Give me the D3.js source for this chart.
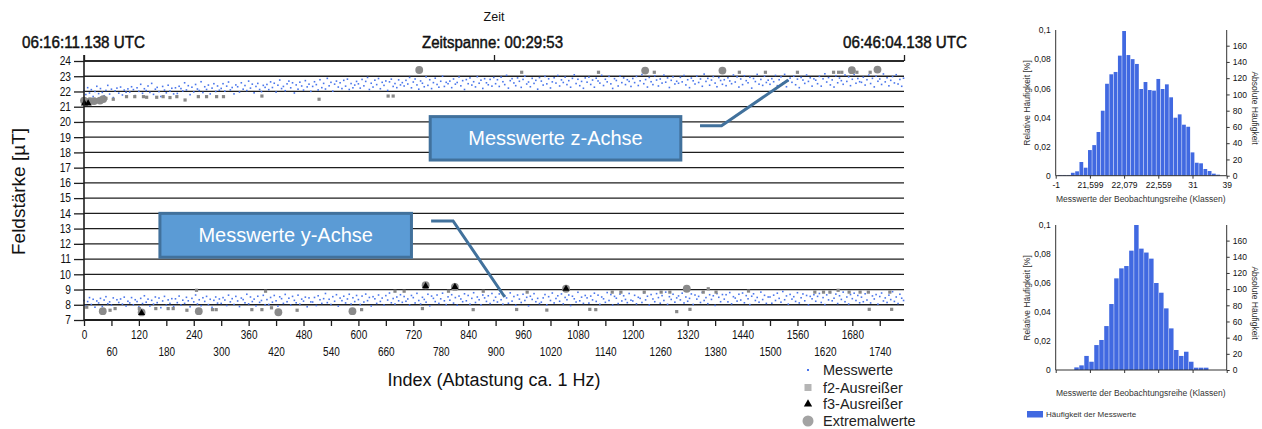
<!DOCTYPE html>
<html><head><meta charset="utf-8">
<script src="https://cdn.jsdelivr.net/npm/d3@7"></script>
<style>
body{margin:0;background:#fff}
svg{display:block}
text{font-family:"Liberation Sans",Arial,sans-serif;fill:#111}
</style>
</head><body>
<svg id="c" width="1262" height="429"></svg>
<script>
// ---------------- DATA ----------------
const sampleStep = 4; // every 4th sample index is shown
const zValues = [
22.03,21.80,22.25,21.90,22.12,21.67,22.00,22.34,21.86,22.19,21.94,21.72,22.07,22.40,21.83,22.15,21.60,22.04,22.22,21.89,22.29,21.77,22.09,21.95,22.17,
21.96,22.31,22.12,21.73,22.24,22.01,22.47,21.88,22.18,22.06,22.36,21.94,22.53,21.81,22.15,22.27,21.99,21.67,22.33,22.09,21.91,22.41,22.03,22.21,21.84,
22.24,21.87,22.34,22.19,22.03,22.57,22.10,22.38,21.79,22.28,21.97,22.46,22.16,22.06,22.64,21.93,22.31,22.13,22.42,21.84,22.22,22.51,22.00,22.36,22.08,
22.20,22.51,22.02,22.35,22.62,22.10,22.26,21.84,22.43,22.31,21.96,22.57,22.15,22.39,22.06,22.68,22.22,22.48,21.91,22.33,22.53,22.13,21.99,22.40,22.27,
22.46,22.12,22.63,22.26,22.54,21.96,22.41,22.75,22.19,22.33,22.05,22.50,22.68,22.24,22.57,21.90,22.43,22.15,22.61,22.36,22.09,22.71,22.30,22.48,22.01,
22.33,22.64,22.45,22.10,22.77,22.25,22.53,22.16,22.86,22.37,22.60,22.02,22.48,22.68,22.29,22.57,22.19,22.73,22.35,22.81,22.13,22.52,22.24,22.42,22.66,
22.50,22.22,22.79,22.37,22.66,22.92,22.13,22.54,22.29,22.74,22.45,22.85,22.18,22.60,22.40,22.69,22.07,22.63,22.81,22.33,22.52,22.25,22.76,22.43,22.58,
22.36,22.73,22.49,22.92,22.24,22.62,22.82,22.43,22.15,22.69,22.54,22.31,22.96,22.40,22.77,22.19,22.58,22.87,22.46,22.28,22.67,23.00,22.33,22.60,22.51,
22.68,22.25,22.82,22.48,22.59,22.95,22.37,22.71,22.13,22.78,22.51,22.89,22.42,22.64,22.30,22.97,22.54,22.74,22.20,22.84,22.57,22.44,22.79,22.35,22.92,
22.51,22.77,22.33,22.94,22.64,22.45,23.06,22.22,22.71,22.84,22.56,22.38,22.89,22.67,22.27,22.79,23.00,22.49,22.62,22.31,22.86,22.53,22.73,22.15,22.91,
22.68,22.42,22.99,22.50,22.83,22.23,22.63,22.90,22.55,23.05,22.36,22.76,22.59,22.94,22.45,22.71,22.28,22.86,23.09,22.52,22.80,22.38,22.66,22.21,22.89,
22.61,22.94,22.46,22.75,22.28,22.87,22.69,22.55,23.06,22.39,22.80,22.63,22.99,22.50,22.20,22.84,22.72,22.36,23.02,22.58,22.89,22.45,22.77,22.66,22.33,
22.85,22.58,22.99,22.39,22.70,23.11,22.51,22.78,22.29,22.92,22.64,22.45,23.03,22.75,22.36,22.82,22.55,23.07,22.61,22.89,22.26,22.73,22.96,22.49,22.67,
22.54,22.93,22.63,23.05,22.43,22.77,22.25,22.88,22.70,22.49,23.01,22.59,22.82,22.34,23.14,22.66,22.86,22.41,22.75,22.98,22.55,22.31,22.91,22.72,22.47,
22.77,22.38,22.90,22.69,22.51,23.08,22.62,22.96,22.29,22.82,22.45,23.03,22.71,22.57,22.93,22.22,22.85,22.65,23.12,22.48,22.79,22.40,23.00,22.59,22.74,
22.47,22.84,22.64,23.05,22.38,22.77,22.96,22.55,23.12,22.31,22.71,22.88,22.60,23.00,22.44,22.81,22.25,22.92,22.75,22.53,23.08,22.66,22.90,22.35,22.83,
22.74,22.51,22.99,22.35,22.83,23.16,22.62,22.91,22.43,22.76,22.29,23.03,22.57,22.88,22.71,22.47,23.08,22.66,22.96,22.38,22.80,23.12,22.54,22.85,22.64,
22.60,22.94,22.42,22.77,23.07,22.52,22.86,22.30,23.00,22.67,22.82,22.46,23.15,22.63,22.90,22.37,22.73,22.98,22.56,23.10,22.49,22.79,22.34,22.87
];
const yValues = [
8.28,7.95,8.21,8.47,8.02,8.36,7.84,8.25,8.12,8.42,7.90,8.31,8.53,8.07,8.19,7.98,8.45,7.80,8.33,8.15,8.38,8.04,8.50,7.92,8.23,
8.12,8.47,8.00,8.33,8.21,7.86,8.42,8.08,8.59,8.17,8.37,7.92,8.29,8.04,8.51,8.14,8.44,7.81,8.25,8.55,7.97,8.32,8.09,8.40,7.90,
8.39,8.14,8.57,7.98,8.30,8.09,8.49,8.26,7.87,8.42,8.19,8.64,8.05,8.33,7.94,8.46,8.22,8.55,8.01,8.36,7.83,8.29,8.51,8.11,8.38,
8.09,8.47,8.31,7.95,8.63,8.19,8.40,8.02,8.55,8.25,7.88,8.44,8.34,8.13,8.69,8.06,8.51,8.21,8.37,7.93,8.56,8.16,8.28,8.62,8.00,
8.34,8.02,8.48,8.17,8.61,8.26,7.91,8.52,8.40,8.09,8.68,8.20,8.43,7.98,8.55,8.29,8.13,8.63,8.04,8.37,8.24,8.50,7.87,8.45,8.19,
8.18,8.48,7.95,8.59,8.33,8.09,8.40,8.74,8.14,8.36,8.02,8.53,8.23,8.66,7.91,8.44,8.27,8.56,8.12,8.38,8.69,8.05,8.46,8.21,8.61,
8.34,8.02,8.57,8.18,8.70,8.27,8.48,7.92,8.53,8.39,8.09,8.64,8.22,8.44,7.98,8.60,8.31,8.77,8.13,8.41,8.05,8.51,8.26,8.66,8.16,
8.54,8.23,8.38,7.98,8.61,8.47,8.12,8.75,8.28,8.05,8.49,8.35,8.17,8.69,7.93,8.57,8.42,8.21,8.64,8.09,8.39,8.76,8.26,8.01,8.52,
8.30,8.66,8.11,8.47,7.97,8.57,8.38,8.20,8.72,8.26,8.61,8.04,8.42,8.79,8.15,8.51,8.33,8.00,8.64,8.45,8.22,8.59,8.08,8.74,8.28,
8.50,8.18,8.71,8.33,8.04,8.60,8.45,8.10,8.78,8.24,8.54,7.97,8.64,8.37,8.15,8.69,8.28,8.49,7.93,8.56,8.35,8.73,8.20,8.42,8.08,
8.17,8.45,8.67,8.00,8.53,8.28,8.77,8.12,8.41,8.59,8.23,8.71,8.06,8.48,8.33,8.64,7.95,8.56,8.39,8.18,8.82,8.26,8.50,8.09,8.61,
8.45,8.11,8.57,8.32,8.76,8.22,8.63,8.03,8.51,8.39,8.16,8.80,8.28,8.67,7.98,8.55,8.43,8.08,8.70,8.25,8.59,8.35,8.14,8.74,8.30,
8.25,8.62,8.06,8.49,8.42,8.15,8.78,8.32,8.56,7.98,8.67,8.38,8.20,8.73,8.47,8.10,8.60,8.28,8.83,8.03,8.53,8.35,8.69,8.17,8.45,
8.58,8.32,8.76,8.12,8.51,8.23,8.42,8.71,8.02,8.64,8.37,8.55,8.15,8.81,8.28,8.47,8.07,8.66,8.35,8.59,7.96,8.73,8.49,8.20,8.67,
8.37,8.66,8.19,8.80,8.06,8.53,8.44,8.24,8.69,8.31,8.77,8.13,8.60,8.39,8.01,8.56,8.72,8.28,8.48,8.17,8.83,8.34,8.62,8.09,8.51,
8.51,8.10,8.63,8.28,8.76,8.42,8.17,8.87,8.33,8.58,8.04,8.68,8.37,8.53,8.22,8.79,8.12,8.46,8.71,8.26,8.61,7.99,8.55,8.39,8.66,
8.23,8.55,8.74,8.15,8.47,8.01,8.65,8.32,8.80,8.26,8.43,8.70,8.08,8.59,8.35,8.83,8.20,8.51,8.05,8.67,8.40,8.76,8.28,8.61,8.13,
8.50,8.20,8.72,8.31,8.83,8.12,8.58,8.38,8.67,8.04,8.54,8.77,8.25,8.45,8.15,8.63,8.34,8.86,8.22,8.51,8.08,8.69,8.43,8.28
];
// outliers [index, value]
const f2Outliers = [
[48,21.55],[64,21.49],[93,21.66],[111,21.66],[130,21.66],[137,21.62],[159,21.62],[173,21.66],[188,21.6],[203,21.66],
[221,21.44],[250,21.66],[268,21.66],[290,21.66],[305,21.66],[389,21.7],[514,21.49],[665,21.7],[676,21.7],
[957,23.26],[1125,23.26],[1247,23.26],[1433,23.26],[1490,23.26],[1560,23.26],[1639,23.26],[1650,23.26],[1657,23.26],[1690,23.26],[1719,23.26],
[6,7.84],[57,7.64],[68,7.75],[121,7.75],[157,7.75],[184,7.75],[195,7.75],[225,7.64],[281,7.68],[289,7.68],[367,7.68],
[389,7.68],[410,7.8],[466,7.64],[607,7.68],[740,7.75],[851,7.68],[946,7.69],[1012,7.65],[1106,7.7],[1119,7.68],
[1296,7.55],[1325,7.7],[1717,7.7],[1766,7.7],
[246,8.95],[397,8.89],[680,8.89],[700,8.89],[797,8.89],[873,8.89],[969,8.83],[1155,8.83],[1174,8.83],[1225,8.83],
[1262,8.83],[1281,8.83],[1354,8.83],[1365,9.05],[1382,8.83],[1453,8.9],[1598,8.83],[1617,8.83],[1631,8.83],[1649,8.95],
[1673,8.83],[1697,8.83],[1715,8.83],[1762,8.83]
];
const f3Outliers = [[1,21.22],[9,21.22],[126,7.46],[747,9.22],[811,9.17],[1054,9.05]];
const extremalValues = [
[0,21.4],[13,21.37],[22,21.37],[35,21.4],[42,21.5],[733,23.41],[1227,23.37],[1396,23.37],[1679,23.4],[1735,23.44],
[41,7.58],[126,7.5],[251,7.58],[425,7.51],[587,7.58],[747,9.28],[811,9.17],[1054,9.05],[1318,9.05]
];
const yTicks = d3.range(7, 25);
const xTicks = d3.range(0, 1793, 60);
const timeLabels = ["06:16:11.138 UTC", "Zeitspanne: 00:29:53", "06:46:04.138 UTC"];
const legendLabels = ["Messwerte", "f2-Ausreißer", "f3-Ausreißer", "Extremalwerte"];

// histograms (relative frequency per class)
const zHistRel = [0.0005,0.0005,0.0005,0.002,0.003,0.0094,0.0055,0.0176,0.021,0.030,0.0446,0.0631,0.0696,0.0712,0.0824,0.0993,
0.0828,0.080,0.0767,0.0595,0.0643,0.0588,0.0584,0.0664,0.0595,0.0627,0.0538,0.0398,0.0421,0.0350,0.0336,0.0160,0.0089,0.0085,0.0046,0.0032,0.0014,0.0007];
const yHistRel = [0.0018,0.0032,0.0097,0.0057,0.0172,0.0207,0.0303,0.0455,0.0632,0.0701,0.0717,0.0823,0.1000,0.0837,0.0810,
0.0768,0.0600,0.0533,0.0425,0.0287,0.0138,0.0097,0.0126,0.0057,0.0016,0.0016,0.0016];
const histXTickLabels = ["-1","21,599","22,079","22,559","31","39"];
const histRelTicks = [0,0.02,0.04,0.06,0.08,0.1];
const histAbsTicks = d3.range(0, 161, 20);
const sampleCount = 1793;

// ---------------- DRAW ----------------
const svg = d3.select("#c");
const FONT = '"Liberation Sans",Arial,sans-serif';
const x = d3.scaleLinear().domain([0, 1793]).range([84, 904]);
const y = d3.scaleLinear().domain([7, 24]).range([320, 61]);

function condense(sel, f) {
  sel.each(function () {
    const w = this.getComputedTextLength();
    d3.select(this).attr("textLength", w * f).attr("lengthAdjust", "spacingAndGlyphs");
  });
}

// grid
svg.append("g").selectAll("line").data(yTicks).join("line")
  .attr("x1", x(0)).attr("x2", x(1793))
  .attr("y1", d => y(d)).attr("y2", d => y(d))
  .attr("stroke", "#1e1e1e").attr("stroke-width", 1.3);

// measurement dots
const dots = svg.append("g").attr("fill", "#4a76ec");
[zValues, yValues].forEach(vals => {
  dots.append("g").selectAll("rect").data(vals).join("rect")
    .attr("x", (d, i) => x(i * sampleStep) - 0.8)
    .attr("y", d => y(d) - 0.8)
    .attr("width", 1.6).attr("height", 1.6);
});

// extremal circles
svg.append("g").selectAll("circle").data(extremalValues).join("circle")
  .attr("cx", d => x(d[0])).attr("cy", d => y(d[1])).attr("r", 3.9)
  .attr("fill", "#8a8a8a");
// f2 squares
svg.append("g").selectAll("rect").data(f2Outliers).join("rect")
  .attr("x", d => x(d[0]) - 1.6).attr("y", d => y(d[1]) - 1.6)
  .attr("width", 3.2).attr("height", 3.2).attr("fill", "#888");
// f3 triangles
svg.append("g").selectAll("path").data(f3Outliers).join("path")
  .attr("d", d3.symbol(d3.symbolTriangle, 22))
  .attr("transform", d => `translate(${x(d[0])},${y(d[1])})`)
  .attr("fill", "#000");

// y axis
const yAx = svg.append("g").attr("transform", "translate(84,0)")
  .call(d3.axisLeft(y).tickValues(yTicks).tickSize(10).tickPadding(3));
yAx.select(".domain").remove();
yAx.selectAll(".tick line").attr("stroke", "#1e1e1e").attr("stroke-width", 1.3);
yAx.selectAll("text").attr("font-size", 12).attr("font-family", FONT).attr("fill", "#111");
condense(yAx.selectAll("text"), 0.85);
svg.append("line").attr("x1", 84).attr("x2", 84).attr("y1", 55).attr("y2", y(7))
  .attr("stroke", "#1e1e1e").attr("stroke-width", 1.6);

// x axis
const xAx = svg.append("g").attr("transform", `translate(0,${y(7)})`)
  .call(d3.axisBottom(x).tickValues(xTicks).tickSize(6).tickFormat(d3.format("d")));
xAx.select(".domain").attr("stroke", "#1e1e1e").attr("stroke-width", 2).attr("d", `M${x(0)},0H${x(1793)}`);
xAx.selectAll(".tick line").attr("stroke", "#1e1e1e").attr("stroke-width", 1.3);
xAx.selectAll("text").attr("font-size", 12.5).attr("font-family", FONT).attr("fill", "#111")
  .attr("y", (d, i) => i % 2 === 0 ? 10 : 27.5);
condense(xAx.selectAll("text"), 0.8);

// top time axis
const tAx = svg.append("g").attr("transform", `translate(0,${y(24)})`)
  .call(d3.axisTop(x).tickValues([0, 1793 / 2, 1793]).tickSize(6).tickFormat(""));
tAx.select(".domain").attr("stroke", "#1e1e1e").attr("stroke-width", 1.6).attr("d", `M${x(0)},0H${x(1793)}`);
tAx.selectAll(".tick line").attr("stroke", "#1e1e1e").attr("stroke-width", 1.3);
const tl = svg.append("g").attr("font-size", 16).style("stroke", "#111").style("stroke-width", 0.45);
tl.append("text").attr("x", 22).attr("y", 48).text(timeLabels[0]).attr("textLength", 123).attr("lengthAdjust", "spacingAndGlyphs");
tl.append("text").attr("x", x(1793 / 2) - 1.5).attr("y", 48).attr("text-anchor", "middle").text(timeLabels[1]).attr("textLength", 141).attr("lengthAdjust", "spacingAndGlyphs");
tl.append("text").attr("x", 967).attr("y", 48).attr("text-anchor", "end").text(timeLabels[2]).attr("textLength", 124).attr("lengthAdjust", "spacingAndGlyphs");
svg.append("text").attr("x", x(1793 / 2)).attr("y", 21).attr("text-anchor", "middle")
  .attr("font-size", 12.5).text("Zeit");

// axis titles
svg.append("text").attr("transform", `translate(25,${(y(7) + y(24)) / 2 + 1}) rotate(-90)`)
  .attr("text-anchor", "middle").attr("font-size", 19).text("Feldstärke [µT]");
svg.append("text").attr("x", x(1793 / 2)).attr("y", 386).attr("text-anchor", "middle")
  .attr("font-size", 18).text("Index (Abtastung ca. 1 Hz)");

// callouts (positioned in data space)
const callouts = [
  { label: "Messwerte z-Achse", box: [757, 1305, 20.35, 17.5], leader: [[1347, 19.75], [1394, 19.75], [1540, 22.75]] },
  { label: "Messwerte y-Achse", box: [166, 716, 14.0, 11.12], leader: [[759, 13.5], [807, 13.5], [920, 8.51]] }
];
callouts.forEach(c => {
  const g = svg.append("g");
  g.append("path").attr("d", d3.line().x(d => x(d[0])).y(d => y(d[1]))(c.leader))
    .attr("fill", "none").attr("stroke", "#41719c").attr("stroke-width", 3);
  g.append("rect").attr("x", x(c.box[0])).attr("y", y(c.box[2]))
    .attr("width", x(c.box[1]) - x(c.box[0])).attr("height", y(c.box[3]) - y(c.box[2]))
    .attr("fill", "#5b9bd5").attr("stroke", "#41719c").attr("stroke-width", 3);
  g.append("text").attr("x", (x(c.box[0]) + x(c.box[1])) / 2).attr("y", (y(c.box[2]) + y(c.box[3])) / 2 + 7)
    .attr("text-anchor", "middle").attr("font-family", "Lato,'Open Sans',sans-serif").attr("font-size", 20)
    .style("fill", "#fff").text(c.label);
});

// legend
const lg = svg.append("g").attr("transform", "translate(808,0)");
const rows = [370, 387.5, 404, 421];
lg.append("rect").attr("x", -1).attr("y", rows[0] - 1).attr("width", 2).attr("height", 2).attr("fill", "#4a76ec");
lg.append("rect").attr("x", -3.5).attr("y", rows[1] - 3.5).attr("width", 7).attr("height", 7).attr("fill", "#b5b5b5");
lg.append("path").attr("d", d3.symbol(d3.symbolTriangle, 30)).attr("transform", `translate(0,${rows[2]})`).attr("fill", "#000");
lg.append("circle").attr("cx", 0).attr("cy", rows[3]).attr("r", 5.5).attr("fill", "#a3a3a3");
lg.selectAll("text").data(legendLabels).join("text")
  .attr("x", 15).attr("y", (d, i) => rows[i] + 5).attr("font-size", 14.5)
  .attr("font-family", "Lato,'Open Sans',sans-serif").style("fill", "#222").text(d => d);

// ---------------- HISTOGRAMS ----------------
function hist(cfg) {
  const g = svg.append("g").attr("font-family", FONT);
  const xs = d3.scaleLinear().domain(cfg.domain).range([1055.7, 1226.7]);
  const yr = d3.scaleLinear().domain([0, 0.1]).range([cfg.base, cfg.top]);
  const ya = d3.scaleLinear().domain([0, 0.1 * sampleCount]).range([cfg.base, cfg.top]);
  g.append("g").selectAll("rect").data(cfg.data).join("rect")
    .attr("x", (d, i) => xs(cfg.start + i) + 0.25)
    .attr("width", (d, i) => xs(cfg.start + i + 1) - xs(cfg.start + i) - 0.5)
    .attr("y", d => yr(d)).attr("height", d => cfg.base - yr(d))
    .attr("fill", "#4169e1");
  const la = g.append("g").attr("transform", "translate(1055.7,0)")
    .call(d3.axisLeft(yr).tickValues(histRelTicks).tickSize(0).tickPadding(5)
      .tickFormat(d => d === 0 ? "0" : d3.format(".2~f")(d).replace(".", ",")));
  la.select(".domain").attr("stroke", "#333").attr("d", `M0,${cfg.top}V${cfg.base}`);
  la.selectAll("text").attr("font-size", 8.5).attr("fill", "#333").attr("font-family", FONT);
  const ra = g.append("g").attr("transform", "translate(1226.7,0)")
    .call(d3.axisRight(ya).tickValues(histAbsTicks).tickSize(3).tickPadding(3));
  ra.select(".domain").attr("stroke", "#333").attr("d", `M0,${cfg.top}V${cfg.base}`);
  ra.selectAll(".tick line").attr("stroke", "#333");
  ra.selectAll("text").attr("font-size", 8.5).attr("fill", "#333").attr("font-family", FONT);
  const bx = g.append("g").attr("transform", `translate(0,${cfg.base})`)
    .call(d3.axisBottom(xs).tickValues(cfg.ticks).tickSize(3).tickPadding(3)
      .tickFormat((d, i) => cfg.showLabels ? histXTickLabels[i] : ""));
  bx.select(".domain").attr("stroke", "#333").attr("d", "M1055.7,0H1226.7");
  bx.selectAll(".tick line").attr("stroke", "#333");
  bx.selectAll("text").attr("font-size", 8.5).attr("fill", "#333").attr("font-family", FONT);
  g.append("text").attr("transform", `translate(1030,${cfg.top + 73}) rotate(-90)`).attr("text-anchor", "middle")
    .attr("font-size", 8.5).style("fill", "#333").text("Relative Häufigkeit [%]");
  g.append("text").attr("transform", `translate(1252,${cfg.top + 78}) rotate(90)`).attr("text-anchor", "middle")
    .attr("font-size", 8.5).style("fill", "#333").text("Absolute Häufigkeit");
  g.append("text").attr("x", 1140.7).attr("y", cfg.base + 26).attr("text-anchor", "middle")
    .attr("font-size", 8.5).style("fill", "#333").text("Messwerte der Beobachtungsreihe (Klassen)");
}
hist({ data: zHistRel, domain: [-1, 39], start: -0.5, top: 30, base: 175.7,
  ticks: [-1, 7, 15, 23, 31, 39], showLabels: true });
hist({ data: yHistRel, domain: [-3.68, 30.61], start: 0, top: 225, base: 370,
  ticks: [-3.68, 3.18, 10.05, 16.87, 23.77, 30.61], showLabels: false });

// histogram legend
svg.append("rect").attr("x", 1027).attr("y", 411).attr("width", 16).attr("height", 6.5).attr("fill", "#4169e1");
svg.append("text").attr("x", 1046).attr("y", 417.3).attr("font-size", 8).style("fill", "#333").text("Häufigkeit der Messwerte");
</script>
</body></html>
